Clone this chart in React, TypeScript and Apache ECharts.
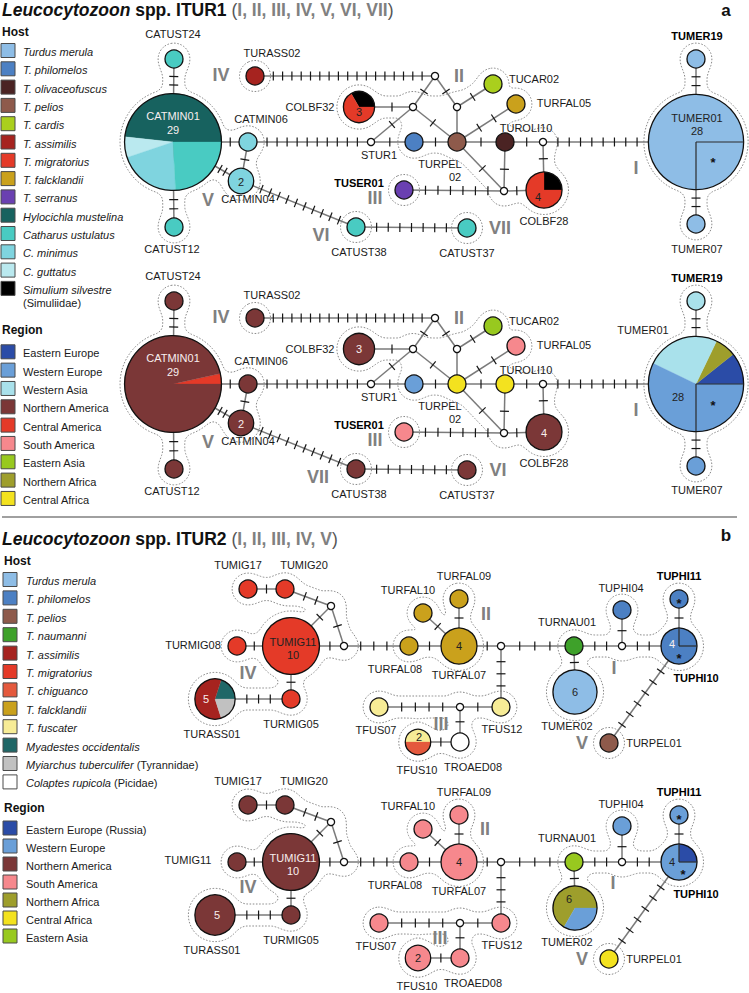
import React, { useEffect, useRef } from 'react';
import * as echarts from 'echarts';

const W = 749;
const H = 993;
const FONT = '"Liberation Sans", Arial, Helvetica, sans-serif';

// ---------------- titles ----------------
const titleA = ['Leucocytozoon', ' spp. ITUR1 ', 'I, II, III, IV, V, VI, VII'];
const titleB = ['Leucocytozoon', ' spp. ITUR2 ', 'I, II, III, IV, V'];

// ---------------- legend categories ----------------
const hostLegendA = ['Turdus merula', 'T. philomelos', 'T. olivaceofuscus', 'T. pelios', 'T. cardis', 'T. assimilis', 'T. migratorius', 'T. falcklandii', 'T. serranus', 'Hylocichla mustelina', 'Catharus ustulatus', 'C. minimus', 'C. guttatus', 'Simulium silvestre'];
const regionLegendA = ['Eastern Europe', 'Western Europe', 'Western Asia', 'Northern America', 'Central America', 'South America', 'Eastern Asia', 'Northern Africa', 'Central Africa'];
const hostLegendB = ['Turdus merula', 'T. philomelos', 'T. pelios', 'T. naumanni', 'T. assimilis', 'T. migratorius', 'T. chiguanco', 'T. falcklandii', 'T. fuscater', 'Myadestes occidentalis', 'Myiarchus tuberculifer', 'Colaptes rupicola'];
const regionLegendB = ['Eastern Europe (Russia)', 'Western Europe', 'Northern America', 'South America', 'Northern Africa', 'Central Africa', 'Eastern Asia'];
const legendNotes: Record<string, string> = { 'Simulium silvestre': '(Simuliidae)', 'Myiarchus tuberculifer': '(Tyrannidae)', 'Colaptes rupicola': '(Picidae)' };

const categoryColors: Record<string, string> = {
  'Turdus merula': '#8EBDE6', 'T. philomelos': '#4C80C3', 'T. olivaceofuscus': '#4A2323', 'T. pelios': '#8E5A4B',
  'T. cardis': '#AACF1D', 'T. assimilis': '#A6231F', 'T. migratorius': '#E43A28', 'T. falcklandii': '#CAA11C',
  'T. serranus': '#6A40B1', 'Hylocichla mustelina': '#17625F', 'Catharus ustulatus': '#49CBC2', 'C. minimus': '#7FD4DF',
  'C. guttatus': '#BAE9EF', 'Simulium silvestre': '#000000', 'T. naumanni': '#3EA12A', 'T. chiguanco': '#E4593D',
  'T. fuscater': '#F7EC96', 'Myadestes occidentalis': '#1F6767', 'Myiarchus tuberculifer': '#C1C1C1', 'Colaptes rupicola': '#FFFFFF',
  'Eastern Europe': '#2B4CA7', 'Eastern Europe (Russia)': '#2B4CA7', 'Western Europe': '#6A9FD8', 'Western Asia': '#A9E1EB',
  'Northern America': '#7B3737', 'Central America': '#E43A28', 'South America': '#F6888D', 'Eastern Asia': '#98C91F',
  'Northern Africa': '#9E9E2C', 'Central Africa': '#F3E21F',
};

// ---------------- ITUR1 network ----------------
const itur1Haplotypes = ['CATUST24', 'CATMIN01', 'CATUST12', 'CATMIN06', 'CATMIN04', 'TURASS02', 'COLBF32', 'STUR1', 'mv1', 'mv0', 'mv2', 'phil', 'TURPEL02', 'TUCAR02', 'TURFAL05', 'TUROLI10', 'mv3', 'mv4', 'COLBF28', 'TUSER01', 'CATUST38', 'CATUST37', 'TUMER19', 'TUMER01', 'TUMER07'];
const itur1Counts = [1, 29, 1, 1, 2, 1, 3, 0, 0, 0, 0, 1, 1, 1, 1, 1, 0, 0, 4, 1, 1, 1, 1, 28, 1];
const itur1LayoutX = [174, 173, 174, 248, 241, 255, 359, 371, 413, 435, 457, 414, 457, 493, 516, 505, 543, 504, 544, 404, 356, 467, 696, 696, 696];
const itur1LayoutY = [59, 142, 227, 142, 181, 76, 107, 142, 107, 76, 107, 142, 142, 84, 104, 142, 142, 191, 190, 190, 227, 228, 59, 142, 224];

const itur1Host: Record<string, [string, number][]> = {
  CATUST24: [['Catharus ustulatus', 1]],
  CATMIN01: [['Hylocichla mustelina', 14], ['C. guttatus', 2], ['C. minimus', 6], ['Catharus ustulatus', 7]],
  CATUST12: [['Catharus ustulatus', 1]],
  CATMIN06: [['C. minimus', 1]],
  CATMIN04: [['C. minimus', 2]],
  TURASS02: [['T. assimilis', 1]],
  COLBF32: [['Simulium silvestre', 1], ['T. migratorius', 2]],
  phil: [['T. philomelos', 1]],
  TURPEL02: [['T. pelios', 1]],
  TUCAR02: [['T. cardis', 1]],
  TURFAL05: [['T. falcklandii', 1]],
  TUROLI10: [['T. olivaceofuscus', 1]],
  COLBF28: [['Simulium silvestre', 1], ['T. migratorius', 3]],
  TUSER01: [['T. serranus', 1]],
  CATUST38: [['Catharus ustulatus', 1]],
  CATUST37: [['Catharus ustulatus', 1]],
  TUMER19: [['Turdus merula', 1]],
  TUMER01: [['Turdus merula', 28]],
  TUMER07: [['Turdus merula', 1]],
};
const itur1Region: Record<string, [string, number][]> = {
  CATUST24: [['Northern America', 1]],
  CATMIN01: [['Central America', 1], ['Northern America', 28]],
  CATUST12: [['Northern America', 1]],
  CATMIN06: [['Northern America', 1]],
  CATMIN04: [['Northern America', 2]],
  TURASS02: [['Northern America', 1]],
  COLBF32: [['Northern America', 3]],
  phil: [['Western Europe', 1]],
  TURPEL02: [['Central Africa', 1]],
  TUCAR02: [['Eastern Asia', 1]],
  TURFAL05: [['South America', 1]],
  TUROLI10: [['Central Africa', 1]],
  COLBF28: [['Northern America', 4]],
  TUSER01: [['South America', 1]],
  CATUST38: [['Northern America', 1]],
  CATUST37: [['Northern America', 1]],
  TUMER19: [['Western Asia', 1]],
  TUMER01: [['Eastern Europe', 3], ['Northern Africa', 2], ['Western Asia', 7], ['Western Europe', 16]],
  TUMER07: [['Western Europe', 1]],
};
// [from, to, mutation steps]
const itur1Mutations: [string, string, number][] = [
  ['CATUST24', 'CATMIN01', 2], ['CATMIN01', 'CATUST12', 2], ['CATMIN01', 'CATMIN06', 1], ['CATMIN06', 'CATMIN04', 1],
  ['CATMIN01', 'CATMIN04', 2], ['CATMIN04', 'CATUST38', 10], ['CATMIN06', 'STUR1', 10], ['TURASS02', 'mv0', 17],
  ['COLBF32', 'mv1', 1], ['STUR1', 'mv1', 1], ['mv1', 'mv0', 1], ['mv0', 'mv2', 1], ['mv1', 'TURPEL02', 1],
  ['mv2', 'TURPEL02', 0], ['mv2', 'TUCAR02', 1], ['TURPEL02', 'TURFAL05', 2], ['STUR1', 'phil', 1], ['phil', 'TURPEL02', 1],
  ['TURPEL02', 'TUROLI10', 1], ['TUROLI10', 'mv3', 1], ['mv3', 'TUMER01', 8], ['TURPEL02', 'mv4', 1], ['TUROLI10', 'mv4', 1],
  ['mv3', 'COLBF28', 1], ['mv4', 'COLBF28', 1], ['TUSER01', 'mv4', 6], ['CATUST38', 'CATUST37', 7],
  ['TUMER19', 'TUMER01', 2], ['TUMER01', 'TUMER07', 2],
];
const itur1Clusters: string[][] = [
  ['CATUST24', 'CATMIN01', 'CATUST12', 'CATMIN06', 'CATMIN04'],
  ['TURASS02'],
  ['COLBF32', 'mv1', 'phil', 'TURPEL02', 'mv2', 'TUCAR02', 'TURFAL05', 'TUROLI10', 'mv3', 'mv4', 'COLBF28'],
  ['TUSER01'], ['CATUST38'], ['CATUST37'],
  ['TUMER19', 'TUMER01', 'TUMER07'],
];
const itur1HullLinks: [string, string][] = [['mv1', 'mv2'], ['mv1', 'phil']];
const itur1Quarter: Record<string, string> = { TUMER01: 'br' };

type Lab = [string, string, number, number, string];
const itur1HostLabels: Lab[] = [
  ['CATUST24', 'CATUST24', -1, -25, 'n'], ['CATMIN01', 'CATMIN01', 0, -26, 'w'], ['CATMIN01', '29', 0, -12, 'w'],
  ['CATUST12', 'CATUST12', -2, 22, 'n'], ['CATMIN06', 'CATMIN06', 13, -23, 'n'], ['CATMIN04', '2', 0, 1, 'd'],
  ['CATMIN04', 'CATMIN04', 7, 18, 'n'], ['TURASS02', 'TURASS02', 17, -23, 'n'], ['COLBF32', 'COLBF32', -49, 0, 'n'],
  ['COLBF32', '3', 0, 5, 'd'], ['STUR1', 'STUR1', 8, 13, 'n'], ['TUCAR02', 'TUCAR02', 41, -5, 'n'],
  ['TURFAL05', 'TURFAL05', 48, -1, 'n'], ['TUROLI10', 'TUROLI10', 21, -14, 'n'], ['TURPEL02', 'TURPEL', -17, 22, 'n'],
  ['TURPEL02', '02', -2, 35, 'n'], ['COLBF28', '4', -6, 7, 'd'], ['COLBF28', 'COLBF28', 0, 31, 'n'],
  ['TUSER01', 'TUSER01', -45, -7, 'b'], ['CATUST38', 'CATUST38', 3, 25, 'n'], ['CATUST37', 'CATUST37', 0, 25, 'n'],
  ['TUMER19', 'TUMER19', 1, -23, 'b'], ['TUMER01', 'TUMER01', 1, -24, 'd'], ['TUMER01', '28', 1, -11, 'd'],
  ['TUMER01', '*', 17, 17, 's'], ['TUMER07', 'TUMER07', 1, 25, 'n'],
  ['TURASS02', 'IV', -34, -1, 'r'], ['mv0', 'II', 24, 0, 'r'], ['TUSER01', 'III', -29, 8, 'r'], ['CATMIN04', 'V', -33, 19, 'r'],
  ['CATUST38', 'VI', -35, 8, 'r'], ['CATUST37', 'VII', 33, 0, 'r'], ['TUMER01', 'I', -60, 26, 'r'],
];
const itur1RegionLabels: Lab[] = [
  ['CATUST24', 'CATUST24', -1, -25, 'n'], ['CATMIN01', 'CATMIN01', 0, -26, 'w'], ['CATMIN01', '29', 0, -12, 'w'],
  ['CATUST12', 'CATUST12', -2, 22, 'n'], ['CATMIN06', 'CATMIN06', 13, -23, 'n'], ['CATMIN04', '2', 0, 1, 'w'],
  ['CATMIN04', 'CATMIN04', 7, 18, 'n'], ['TURASS02', 'TURASS02', 17, -23, 'n'], ['COLBF32', 'COLBF32', -49, 0, 'n'],
  ['COLBF32', '3', 0, 0, 'w'], ['STUR1', 'STUR1', 8, 13, 'n'], ['TUCAR02', 'TUCAR02', 41, -5, 'n'],
  ['TURFAL05', 'TURFAL05', 48, -1, 'n'], ['TUROLI10', 'TUROLI10', 21, -14, 'n'], ['TURPEL02', 'TURPEL', -17, 22, 'n'],
  ['TURPEL02', '02', -2, 35, 'n'], ['COLBF28', '4', 0, 1, 'w'], ['COLBF28', 'COLBF28', 0, 31, 'n'],
  ['TUSER01', 'TUSER01', -45, -7, 'b'], ['CATUST38', 'CATUST38', 3, 25, 'n'], ['CATUST37', 'CATUST37', 0, 25, 'n'],
  ['TUMER19', 'TUMER19', 1, -23, 'b'], ['TUMER01', 'TUMER01', -53, -54, 'n'], ['TUMER01', '28', -18, 13, 'd'],
  ['TUMER01', '*', 17, 18, 's'], ['TUMER07', 'TUMER07', 1, 24, 'n'],
  ['TURASS02', 'IV', -34, -1, 'r'], ['mv0', 'II', 24, 0, 'r'], ['TUSER01', 'III', -29, 8, 'r'], ['CATMIN04', 'V', -33, 19, 'r'],
  ['CATUST38', 'VII', -38, 8, 'r'], ['CATUST37', 'VI', 31, 0, 'r'], ['TUMER01', 'I', -60, 26, 'r'],
];

// ---------------- ITUR2 network ----------------
const itur2Haplotypes = ['TUMIG17', 'TUMIG20', 'nv1', 'nv2', 'TUMIG11', 'TURMIG08', 'TURMIG05', 'TURASS01', 'TURFAL08', 'TURFAL10', 'TURFAL09', 'TURFAL07', 'nv3', 'TFUS12', 'nv4', 'TFUS07', 'TROAED08', 'TFUS10', 'TURNAU01', 'TUMER02', 'nv5', 'TUPHI04', 'TUPHI10', 'TUPHI11', 'TURPEL01'];
const itur2Counts = [1, 1, 0, 0, 10, 1, 1, 5, 1, 1, 1, 4, 0, 1, 0, 1, 1, 2, 1, 6, 0, 1, 4, 1, 1];
const itur2LayoutX = [248, 285, 331, 344, 291, 237, 291, 215, 409, 423, 459, 459, 501, 501, 460, 379, 460, 418, 574, 575, 622, 622, 679, 679, 609];
const itur2LayoutY = [589, 589, 606, 646, 646, 646, 699, 699, 646, 613, 599, 646, 646, 707, 707, 707, 742, 742, 646, 692, 646, 610, 646, 599, 743];

const itur2Host: Record<string, [string, number][]> = {
  TUMIG17: [['T. migratorius', 1]], TUMIG20: [['T. migratorius', 1]], TUMIG11: [['T. migratorius', 10]],
  TURMIG08: [['T. migratorius', 1]], TURMIG05: [['T. migratorius', 1]],
  TURASS01: [['Myadestes occidentalis', 1], ['T. assimilis', 3], ['Myiarchus tuberculifer', 1]],
  TURFAL08: [['T. falcklandii', 1]], TURFAL10: [['T. falcklandii', 1]], TURFAL09: [['T. falcklandii', 1]], TURFAL07: [['T. falcklandii', 4]],
  TFUS12: [['T. fuscater', 1]], TFUS07: [['T. fuscater', 1]], TROAED08: [['Colaptes rupicola', 1]],
  TFUS10: [['T. fuscater', 1], ['T. chiguanco', 1]],
  TURNAU01: [['T. naumanni', 1]], TUMER02: [['Turdus merula', 6]],
  TUPHI04: [['T. philomelos', 1]], TUPHI10: [['T. philomelos', 4]], TUPHI11: [['T. philomelos', 1]],
  TURPEL01: [['T. pelios', 1]],
};
const itur2Region: Record<string, [string, number][]> = {
  TUMIG17: [['Northern America', 1]], TUMIG20: [['Northern America', 1]], TUMIG11: [['Northern America', 10]],
  TURMIG08: [['Northern America', 1]], TURMIG05: [['Northern America', 1]], TURASS01: [['Northern America', 5]],
  TURFAL08: [['South America', 1]], TURFAL10: [['South America', 1]], TURFAL09: [['South America', 1]], TURFAL07: [['South America', 4]],
  TFUS12: [['South America', 1]], TFUS07: [['South America', 1]], TROAED08: [['South America', 1]], TFUS10: [['South America', 2]],
  TURNAU01: [['Eastern Asia', 1]], TUMER02: [['Northern Africa', 4], ['Western Europe', 2]],
  TUPHI04: [['Western Europe', 1]], TUPHI10: [['Eastern Europe (Russia)', 1], ['Western Europe', 3]], TUPHI11: [['Western Europe', 1]],
  TURPEL01: [['Central Africa', 1]],
};
const itur2Mutations: [string, string, number][] = [
  ['TUMIG17', 'TUMIG20', 1], ['TUMIG20', 'nv1', 2], ['nv1', 'TUMIG11', 1], ['nv1', 'nv2', 1], ['TUMIG11', 'nv2', 1],
  ['TURMIG08', 'TUMIG11', 1], ['TUMIG11', 'TURMIG05', 1], ['TURASS01', 'TURMIG05', 3], ['nv2', 'TURFAL08', 3],
  ['TURFAL08', 'TURFAL07', 1], ['TURFAL10', 'TURFAL07', 1], ['TURFAL09', 'TURFAL07', 1], ['TURFAL07', 'nv3', 1],
  ['nv3', 'TURNAU01', 3], ['nv3', 'TFUS12', 3], ['TFUS07', 'nv4', 4], ['nv4', 'TFUS12', 1], ['nv4', 'TROAED08', 1],
  ['TFUS10', 'TROAED08', 1], ['TURNAU01', 'TUMER02', 1], ['TURNAU01', 'nv5', 2], ['nv5', 'TUPHI04', 1],
  ['nv5', 'TUPHI10', 2], ['TUPHI10', 'TUPHI11', 1], ['TUPHI10', 'TURPEL01', 6],
];
const itur2Clusters: string[][] = [
  ['TUMIG17', 'TUMIG20', 'nv1', 'nv2', 'TUMIG11', 'TURMIG08', 'TURMIG05', 'TURASS01'],
  ['TURFAL08', 'TURFAL10', 'TURFAL09', 'TURFAL07'],
  ['TFUS07', 'nv4', 'TFUS12', 'TROAED08', 'TFUS10'],
  ['TURNAU01', 'TUMER02', 'nv5', 'TUPHI04', 'TUPHI10', 'TUPHI11'],
  ['TURPEL01'],
];
const itur2HullLinks: [string, string][] = [];
const itur2Quarter: Record<string, string> = { TUPHI10: 'tr' };

const itur2HostLabels: Lab[] = [
  ['TUMIG17', 'TUMIG17', -10, -24, 'n'], ['TUMIG20', 'TUMIG20', 19, -24, 'n'], ['TUMIG11', 'TUMIG11', 2, -4, 'd'],
  ['TUMIG11', '10', 2, 9, 'd'], ['TURMIG08', 'TURMIG08', -44, -1, 'n'], ['TURMIG05', 'TURMIG05', 0, 25, 'n'],
  ['TURASS01', '5', -9, 0, 'w'], ['TURASS01', 'TURASS01', -3, 35, 'n'], ['TURFAL08', 'TURFAL08', -14, 23, 'n'],
  ['TURFAL10', 'TURFAL10', -15, -23, 'n'], ['TURFAL09', 'TURFAL09', 5, -23, 'n'], ['TURFAL07', '4', 0, 0, 'd'],
  ['TURFAL07', 'TURFAL07', 0, 29, 'n'], ['TFUS12', 'TFUS12', 1, 22, 'n'], ['TFUS07', 'TFUS07', -3, 23, 'n'],
  ['TFUS10', '2', 1, -5, 'd'], ['TFUS10', 'TFUS10', -1, 28, 'n'], ['TROAED08', 'TROAED08', 13, 25, 'n'],
  ['TURNAU01', 'TURNAU01', -7, -24, 'n'], ['TUMER02', '6', 0, 0, 'd'], ['TUMER02', 'TUMER02', -8, 34, 'n'],
  ['TUPHI04', 'TUPHI04', -1, -22, 'n'], ['TUPHI11', '*', 0, 1, 's'], ['TUPHI11', 'TUPHI11', 0, -23, 'b'],
  ['TUPHI10', '4', -7, -2, 'w'], ['TUPHI10', '*', 0, 9, 's'], ['TUPHI10', 'TUPHI10', 17, 32, 'b'],
  ['TURPEL01', 'TURPEL01', 45, 0, 'n'],
  ['TUMIG11', 'IV', -43, 27, 'r'], ['TURFAL07', 'II', 27, -32, 'r'], ['nv4', 'III', -19, 17, 'r'],
  ['nv5', 'I', -8, 22, 'r'], ['TURPEL01', 'V', -27, 0, 'r'],
];
const itur2RegionLabels: Lab[] = [
  ['TUMIG17', 'TUMIG17', -10, -24, 'n'], ['TUMIG20', 'TUMIG20', 19, -24, 'n'], ['TUMIG11', 'TUMIG11', 2, -4, 'w'],
  ['TUMIG11', '10', 2, 9, 'w'], ['TURMIG08', 'TUMIG11', -49, -2, 'n'], ['TURMIG05', 'TURMIG05', 0, 25, 'n'],
  ['TURASS01', '5', 2, 0, 'w'], ['TURASS01', 'TURASS01', -3, 35, 'n'], ['TURFAL08', 'TURFAL08', -14, 23, 'n'],
  ['TURFAL10', 'TURFAL10', -15, -23, 'n'], ['TURFAL09', 'TURFAL09', 5, -23, 'n'], ['TURFAL07', '4', 0, 0, 'd'],
  ['TURFAL07', 'TURFAL07', 0, 29, 'n'], ['TFUS12', 'TFUS12', 1, 22, 'n'], ['TFUS07', 'TFUS07', -3, 23, 'n'],
  ['TFUS10', '2', 0, 0, 'd'], ['TFUS10', 'TFUS10', -1, 28, 'n'], ['TROAED08', 'TROAED08', 13, 25, 'n'],
  ['TURNAU01', 'TURNAU01', -7, -24, 'n'], ['TUMER02', '6', -6, -9, 'd'], ['TUMER02', 'TUMER02', -8, 34, 'n'],
  ['TUPHI04', 'TUPHI04', -1, -22, 'n'], ['TUPHI11', '*', 0, 1, 's'], ['TUPHI11', 'TUPHI11', 0, -23, 'b'],
  ['TUPHI10', '4', -7, 0, 'd'], ['TUPHI10', '*', 4, 9, 's'], ['TUPHI10', 'TUPHI10', 17, 32, 'b'],
  ['TURPEL01', 'TURPEL01', 45, 0, 'n'],
  ['TUMIG11', 'IV', -43, 25, 'r'], ['TURFAL07', 'II', 26, -33, 'r'], ['nv4', 'III', -20, 15, 'r'],
  ['nv5', 'I', -9, 21, 'r'], ['TURPEL01', 'V', -27, 0, 'r'],
];

// ---------------- assembly ----------------
const networks: Record<string, any> = {
  ITUR1: { ids: itur1Haplotypes, counts: itur1Counts, xs: itur1LayoutX, ys: itur1LayoutY, edges: itur1Mutations, clusters: itur1Clusters, hullLinks: itur1HullLinks, quarter: itur1Quarter },
  ITUR2: { ids: itur2Haplotypes, counts: itur2Counts, xs: itur2LayoutX, ys: itur2LayoutY, edges: itur2Mutations, clusters: itur2Clusters, hullLinks: itur2HullLinks, quarter: itur2Quarter },
};
const panels = [
  { net: 'ITUR1', comp: itur1Host, dy: 0, labels: itur1HostLabels },
  { net: 'ITUR1', comp: itur1Region, dy: 242, labels: itur1RegionLabels },
  { net: 'ITUR2', comp: itur2Host, dy: 0, labels: itur2HostLabels },
  { net: 'ITUR2', comp: itur2Region, dy: 216, labels: itur2RegionLabels },
];

const radiusOf = (count: number) => (count === 0 ? 3.6 : 9 * Math.sqrt(count));

function smin(a: number, b: number, k: number) {
  const h = Math.max(k - Math.abs(a - b), 0) / k;
  return Math.min(a, b) - h * h * k * 0.25;
}
function segDist(x: number, y: number, s: number[]) {
  const [x1, y1, x2, y2] = s;
  const dx = x2 - x1, dy = y2 - y1;
  const L2 = dx * dx + dy * dy;
  let t = L2 > 0 ? ((x - x1) * dx + (y - y1) * dy) / L2 : 0;
  t = Math.max(0, Math.min(1, t));
  return Math.hypot(x - (x1 + t * dx), y - (y1 + t * dy));
}

function hullLoop(circles: { x: number; y: number; r: number; pad: number }[], segs: number[][]): number[][] {
  const step = 1.5;
  const K = 8;
  let x0 = Infinity, y0 = Infinity, x1 = -Infinity, y1 = -Infinity;
  circles.forEach((c) => {
    x0 = Math.min(x0, c.x - c.r - 20); y0 = Math.min(y0, c.y - c.r - 20);
    x1 = Math.max(x1, c.x + c.r + 20); y1 = Math.max(y1, c.y + c.r + 20);
  });
  const nx = Math.ceil((x1 - x0) / step) + 1;
  const ny = Math.ceil((y1 - y0) / step) + 1;
  const v = new Float64Array(nx * ny);
  for (let j = 0; j < ny; j++) {
    for (let i = 0; i < nx; i++) {
      const x = x0 + i * step, y = y0 + j * step;
      let d = 1e9;
      for (const c of circles) d = smin(d, Math.hypot(x - c.x, y - c.y) - c.r - c.pad, K);
      for (const s of segs) d = smin(d, segDist(x, y, s) - 11, K);
      v[j * nx + i] = d;
    }
  }
  const pts = new Map<string, number[]>();
  const adj = new Map<string, string[]>();
  const link = (a: string, b: string) => {
    if (!adj.has(a)) adj.set(a, []);
    if (!adj.has(b)) adj.set(b, []);
    adj.get(a)!.push(b); adj.get(b)!.push(a);
  };
  const ep = (id: string, xa: number, ya: number, va: number, xb: number, yb: number, vb: number) => {
    if (!pts.has(id)) {
      const t = va / (va - vb);
      pts.set(id, [xa + (xb - xa) * t, ya + (yb - ya) * t]);
    }
    return id;
  };
  for (let j = 0; j < ny - 1; j++) {
    for (let i = 0; i < nx - 1; i++) {
      const a = v[j * nx + i], b = v[j * nx + i + 1], c = v[(j + 1) * nx + i + 1], d = v[(j + 1) * nx + i];
      const ia = a < 0, ib = b < 0, ic = c < 0, id = d < 0;
      const xa = x0 + i * step, ya = y0 + j * step, xb = xa + step, yb = ya + step;
      let T = '', R = '', B = '', L = '';
      if (ia !== ib) T = ep('h' + i + '_' + j, xa, ya, a, xb, ya, b);
      if (ib !== ic) R = ep('v' + (i + 1) + '_' + j, xb, ya, b, xb, yb, c);
      if (id !== ic) B = ep('h' + i + '_' + (j + 1), xa, yb, d, xb, yb, c);
      if (ia !== id) L = ep('v' + i + '_' + j, xa, ya, a, xa, yb, d);
      const list = [T, R, B, L].filter((s) => s);
      if (list.length === 2) link(list[0], list[1]);
      else if (list.length === 4) {
        const center = (a + b + c + d) / 4;
        if ((center < 0) === ia) { link(T, R); link(L, B); } else { link(T, L); link(R, B); }
      }
    }
  }
  const visited = new Set<string>();
  let best: number[][] = [];
  for (const start of adj.keys()) {
    if (visited.has(start)) continue;
    const loop: number[][] = [];
    let prev: string | null = null;
    let cur: string | undefined = start;
    while (cur && !visited.has(cur)) {
      visited.add(cur);
      loop.push(pts.get(cur)!);
      const nb = adj.get(cur)!;
      const nxt = nb.find((n) => n !== prev && !visited.has(n));
      prev = cur;
      cur = nxt;
    }
    if (loop.length > best.length) best = loop;
  }
  return best;
}

function buildOption() {
  const nodeItems: any[] = [];
  const edgeItems: any[] = [];
  const hullItems: any[] = [];
  const textItems: any[] = [];

  panels.forEach((p) => {
    const net = networks[p.net];
    const index = new Map<string, number>(net.ids.map((id: string, i: number) => [id, i]));
    const pos = (id: string) => {
      const i = index.get(id)!;
      return { x: net.xs[i], y: net.ys[i] + p.dy, r: radiusOf(net.counts[i]), median: net.counts[i] === 0 };
    };
    net.ids.forEach((id: string) => {
      nodeItems.push({ ...pos(id), comp: (p.comp as any)[id], quarter: net.quarter[id] });
    });
    net.edges.forEach(([a, b, k]: [string, string, number]) => {
      edgeItems.push({ A: pos(a), B: pos(b), k });
    });
    net.clusters.forEach((members: string[]) => {
      const set = new Set(members);
      const circles = members.map((id) => {
        const n = pos(id);
        return { x: n.x, y: n.y, r: Math.max(n.r, 5), pad: n.r > 30 ? 4.5 : 6.5 };
      });
      const links = net.edges.filter((e: any) => set.has(e[0]) && set.has(e[1])).concat(net.hullLinks.filter((e: any) => set.has(e[0]) && set.has(e[1])));
      const segs = links.map((e: any) => {
        const A = pos(e[0]), B = pos(e[1]);
        return [A.x, A.y, B.x, B.y];
      });
      const loop = hullLoop(circles, segs);
      hullItems.push({ points: loop, cx: circles[0].x, cy: circles[0].y });
    });
    p.labels.forEach(([id, text, dx, dy, st]) => {
      const n = pos(id);
      textItems.push({ x: n.x + dx, y: n.y + dy + (st === 's' ? 3 : 0), text, st });
    });
  });

  const textStyleFor = (st: string) => {
    switch (st) {
      case 'b': return { fill: '#000', fontSize: 11, fontWeight: 'bold' };
      case 'w': return { fill: '#F8EEEE', fontSize: 11, fontWeight: 'normal' };
      case 'd': return { fill: '#222', fontSize: 11, fontWeight: 'normal' };
      case 'r': return { fill: '#808080', fontSize: 18, fontWeight: 'bold' };
      case 's': return { fill: '#111', fontSize: 13, fontWeight: 'bold' };
      default: return { fill: '#1a1a1a', fontSize: 11, fontWeight: 'normal' };
    }
  };

  // ----- graphic: titles, legends, separator -----
  const g: any[] = [];
  const txt = (x: number, y: number, text: string, o: any = {}) => ({
    type: 'text', x, y, silent: true,
    style: {
      text, fill: o.fill || '#1a1a1a', fontSize: o.size || 11, fontFamily: FONT,
      fontWeight: o.weight || 'normal', fontStyle: o.fstyle || 'normal',
      textAlign: o.align || 'left', align: o.align || 'left',
      textVerticalAlign: 'middle', verticalAlign: 'middle', rich: o.rich,
    },
  });
  const TS = 17.5;
  const titleRich = {
    i: { fontFamily: FONT, fontSize: TS, fontWeight: 'bold', fontStyle: 'italic', fill: '#111' },
    b: { fontFamily: FONT, fontSize: TS, fontWeight: 'bold', fill: '#111' },
    p: { fontFamily: FONT, fontSize: TS, fontWeight: 'normal', fill: '#555' },
    g: { fontFamily: FONT, fontSize: TS, fontWeight: 'bold', fill: '#808080' },
  };
  const titleText = (t: string[]) => `{i|${t[0]}}{b|${t[1]}}{p|(}{g|${t[2]}}{p|)}`;
  g.push(txt(2, 10, titleText(titleA), { rich: titleRich, size: TS }));
  g.push(txt(2, 539, titleText(titleB), { rich: titleRich, size: TS }));
  g.push(txt(726, 10, 'a', { size: 17, weight: 'bold', fill: '#111', align: 'center' }));
  g.push(txt(726, 535, 'b', { size: 17, weight: 'bold', fill: '#111', align: 'center' }));
  g.push({ type: 'line', silent: true, shape: { x1: 2, y1: 517, x2: 737, y2: 517 }, style: { stroke: '#808080', lineWidth: 1.5 } });

  const legendRich = {
    it: { fontFamily: FONT, fontSize: 11, fontStyle: 'italic', fill: '#1a1a1a' },
    nm: { fontFamily: FONT, fontSize: 11, fill: '#1a1a1a' },
  };
  const legend = (sqX: number, txX: number, title: string, titleY: number, items: string[], y0: number, step: number, italic: boolean, noteInline: boolean) => {
    g.push(txt(sqX + 1, titleY, title, { size: 12, weight: 'bold', fill: '#111' }));
    items.forEach((name, i) => {
      const y = y0 + step * i;
      g.push({ type: 'rect', silent: true, shape: { x: sqX, y: y - 8.5, width: 14, height: 14 }, style: { fill: categoryColors[name], stroke: '#4a4a4a', lineWidth: 1 } });
      const note = legendNotes[name];
      if (!italic) g.push(txt(txX, y, name));
      else if (note && noteInline) g.push(txt(txX, y, `{it|${name}} {nm|${note}}`, { rich: legendRich }));
      else {
        g.push(txt(txX, y, name, { fstyle: 'italic' }));
        if (note) g.push(txt(txX, y + 13, note));
      }
    });
  };
  legend(1, 23, 'Host', 32, hostLegendA, 52, 18.3, true, false);
  legend(1, 23, 'Region', 330, regionLegendA, 353.3, 18.33, false, false);
  legend(3, 26, 'Host', 561, hostLegendB, 581, 18.4, true, true);
  legend(3, 26, 'Region', 808, regionLegendB, 829.5, 18, false, false);

  return {
    animation: false,
    backgroundColor: '#ffffff',
    grid: { left: 0, right: 0, top: 0, bottom: 0, containLabel: false },
    xAxis: { type: 'value', min: 0, max: W, show: false },
    yAxis: { type: 'value', min: 0, max: H, inverse: true, show: false },
    graphic: { elements: g },
    series: [
      {
        type: 'custom', name: 'clusters', coordinateSystem: 'cartesian2d', silent: true, z: 1,
        data: hullItems.map((h) => [h.cx, h.cy]),
        renderItem: (params: any, api: any) => {
          const loop = hullItems[params.dataIndex].points;
          return {
            type: 'polygon',
            shape: { points: loop.map((pt: number[]) => api.coord(pt)) },
            style: { fill: 'none', stroke: '#8a8a8a', lineWidth: 1, lineDash: [1.6, 1.6] },
          };
        },
      },
      {
        type: 'custom', name: 'mutations', coordinateSystem: 'cartesian2d', silent: true, z: 2,
        data: edgeItems.map((e) => [e.A.x, e.A.y]),
        renderItem: (params: any, api: any) => {
          const e = edgeItems[params.dataIndex];
          const a = api.coord([e.A.x, e.A.y]);
          const b = api.coord([e.B.x, e.B.y]);
          const dx = b[0] - a[0], dy = b[1] - a[1];
          const L = Math.hypot(dx, dy);
          const ux = dx / L, uy = dy / L, px = -uy, py = ux;
          const children: any[] = [{ type: 'line', shape: { x1: a[0], y1: a[1], x2: b[0], y2: b[1] }, style: { stroke: '#7a7a7a', lineWidth: 1.5 } }];
          const s0 = e.A.r, s1 = L - e.B.r;
          for (let k = 1; k <= e.k; k++) {
            const t = s0 + ((s1 - s0) * k) / (e.k + 1);
            const cx = a[0] + ux * t, cy = a[1] + uy * t;
            children.push({ type: 'line', shape: { x1: cx - px * 4.5, y1: cy - py * 4.5, x2: cx + px * 4.5, y2: cy + py * 4.5 }, style: { stroke: '#151515', lineWidth: 1.2 } });
          }
          return { type: 'group', children };
        },
      },
      {
        type: 'custom', name: 'haplotypes', coordinateSystem: 'cartesian2d', silent: true, z: 3,
        data: nodeItems.map((n) => [n.x, n.y]),
        renderItem: (params: any, api: any) => {
          const n = nodeItems[params.dataIndex];
          const [cx, cy] = api.coord([n.x, n.y]);
          if (n.median || !n.comp) {
            return { type: 'circle', shape: { cx, cy, r: 3.6 }, style: { fill: '#fff', stroke: '#111', lineWidth: 1.3 } };
          }
          const r = n.r;
          const children: any[] = [];
          const total = n.comp.reduce((s: number, c: any) => s + c[1], 0);
          if (n.comp.length === 1) {
            children.push({ type: 'circle', shape: { cx, cy, r }, style: { fill: categoryColors[n.comp[0][0]] } });
          } else {
            let a0 = 0;
            n.comp.forEach(([cat, cnt]: [string, number]) => {
              const a1 = a0 + (cnt / total) * 360;
              children.push({
                type: 'sector',
                shape: { cx, cy, r, r0: 0, startAngle: (-a1 * Math.PI) / 180, endAngle: (-a0 * Math.PI) / 180, clockwise: true },
                style: { fill: categoryColors[cat], stroke: categoryColors[cat], lineWidth: 0.3 },
              });
              a0 = a1;
            });
          }
          children.push({ type: 'circle', shape: { cx, cy, r }, style: { fill: 'none', stroke: '#111', lineWidth: 1.3 } });
          if (n.quarter) {
            const vy = n.quarter === 'br' ? cy + r : cy - r;
            children.push({ type: 'line', shape: { x1: cx, y1: cy, x2: cx + r, y2: cy }, style: { stroke: '#2a2a2a', lineWidth: 1.2 } });
            children.push({ type: 'line', shape: { x1: cx, y1: cy, x2: cx, y2: vy }, style: { stroke: '#2a2a2a', lineWidth: 1.2 } });
          }
          return { type: 'group', children };
        },
      },
      {
        type: 'custom', name: 'labels', coordinateSystem: 'cartesian2d', silent: true, z: 4,
        data: textItems.map((t) => [t.x, t.y]),
        renderItem: (params: any, api: any) => {
          const t = textItems[params.dataIndex];
          const [x, y] = api.coord([t.x, t.y]);
          const s = textStyleFor(t.st);
          return {
            type: 'text', x, y,
            style: {
              text: t.text, fill: s.fill, fontSize: s.fontSize, fontWeight: s.fontWeight, fontFamily: FONT,
              textAlign: 'center', align: 'center', textVerticalAlign: 'middle', verticalAlign: 'middle',
            },
          };
        },
      },
    ],
  };
}

export default function App() {
  const ref = useRef<HTMLDivElement>(null);
  useEffect(() => {
    if (!ref.current) return;
    const chart = echarts.init(ref.current, undefined, { renderer: 'svg', width: W, height: H });
    chart.setOption(buildOption() as any);
    return () => chart.dispose();
  }, []);
  return <div ref={ref} style={{ position: 'absolute', left: 0, top: 0, width: W, height: H, background: '#fff' }} />;
}
